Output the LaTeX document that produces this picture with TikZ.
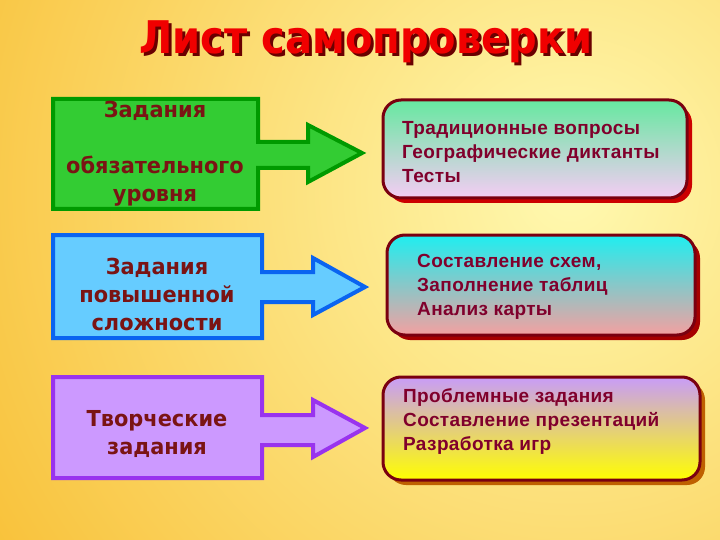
\documentclass[tikz,border=0pt]{standalone}
\usepackage{fontspec}
\setmainfont[LetterSpace=2]{Liberation Sans}
\newfontfamily\headfont[FakeStretch=0.89]{DejaVu Sans}
\newfontfamily\taskfont[FakeStretch=0.95]{DejaVu Sans}
\usetikzlibrary{shadows}

\definecolor{bgin}{HTML}{FFF9B0}
\definecolor{bgout}{HTML}{F6AE10}
\definecolor{titlered}{HTML}{F00000}
\definecolor{titleshade}{HTML}{6A0000}
\definecolor{taskred}{HTML}{7A1414}
\definecolor{listred}{HTML}{80002C}
\definecolor{boxline}{HTML}{7A0010}
\definecolor{grfill}{HTML}{33CC33}
\definecolor{grline}{HTML}{009A00}
\definecolor{blfill}{HTML}{66CCFF}
\definecolor{blline}{HTML}{0A64F0}
\definecolor{vifill}{HTML}{CC99FF}
\definecolor{viline}{HTML}{9933EE}
\definecolor{mint}{HTML}{66E8A0}
\definecolor{lilac}{HTML}{F4CCF4}
\definecolor{aqua}{HTML}{1EEEF0}
\definecolor{rosy}{HTML}{F4A0A0}
\definecolor{lavender}{HTML}{C89CF8}
\definecolor{lemon}{HTML}{FFFF00}

\begin{document}
\begin{tikzpicture}
[x=1pt,y=-1pt,
task/.style={line width=4pt, line join=miter},
tasktext/.style={font=\taskfont\bfseries\fontsize{22}{28}\selectfont, text=taskred, align=center, inner sep=0pt},
result/.style={rounded corners=18pt, draw=boxline, line width=3pt, inner sep=0pt},
listtext/.style={font=\bfseries\fontsize{19}{24}\selectfont, text=listred, align=left, anchor=west, inner sep=0pt}]

\useasboundingbox (0,0) rectangle (720,540);
\begin{scope}
\clip (0,0) rectangle (720,540);
\shade[inner color=bgin, outer color=bgout] (570,190) circle (920);
\end{scope}

% title, with its dark copy set 3pt lower right
\node[font=\headfont\bfseries\fontsize{45}{50}\selectfont, text=titlered] (title) at (366,43)
  {\rlap{\kern3pt\raisebox{-3pt}{\color{titleshade}Лист самопроверки}}Лист самопроверки};

% left column
\draw[task, fill=grfill, draw=grline] (53,99) -- (258,99) -- (258,142) -- (308,142) -- (308,125) -- (362,153) -- (308,182) -- (308,168) -- (258,168) -- (258,209) -- (53,209) -- cycle;
\draw[task, fill=blfill, draw=blline] (53,235) -- (262,235) -- (262,272) -- (313,272) -- (313,258) -- (365,287) -- (313,315) -- (313,302) -- (262,302) -- (262,338) -- (53,338) -- cycle;
\draw[task, fill=vifill, draw=viline] (53,377) -- (262,377) -- (262,415) -- (313,415) -- (313,400) -- (365,428) -- (313,457) -- (313,445) -- (262,445) -- (262,478) -- (53,478) -- cycle;

\node[tasktext] (task1) at (155,154) {Задания\\[28pt]обязательного\\уровня};
\node[tasktext] (task2) at (157,294) {Задания\\повышенной\\сложности};
\node[tasktext] (task3) at (157,434) {Творческие\\задания};

% right column
\node[result, minimum width=304, minimum height=98, top color=mint, bottom color=lilac,
  drop shadow={shadow xshift=5pt, shadow yshift=-5pt, fill=red!80!black, opacity=1}] (res1) at (535,149) {};
\node[result, minimum width=308, minimum height=100, top color=aqua, bottom color=rosy,
  drop shadow={shadow xshift=5pt, shadow yshift=-5pt, fill=red!65!black, opacity=1}] (res2) at (541,285) {};
\node[result, minimum width=317, minimum height=103, top color=lavender, bottom color=lemon,
  drop shadow={shadow xshift=5pt, shadow yshift=-5pt, fill=orange!75!black, opacity=1}] (res3) at (541.5,428.5) {};

\node[listtext] (list1) at (402,152) {Традиционные вопросы\\Географические диктанты\\Тесты};
\node[listtext] (list2) at (417,287) {Составление схем,\\Заполнение таблиц\\Анализ карты};
\node[listtext] (list3) at (403,422) {Проблемные задания\\Составление презентаций\\Разработка игр};
\end{tikzpicture}
\end{document}
